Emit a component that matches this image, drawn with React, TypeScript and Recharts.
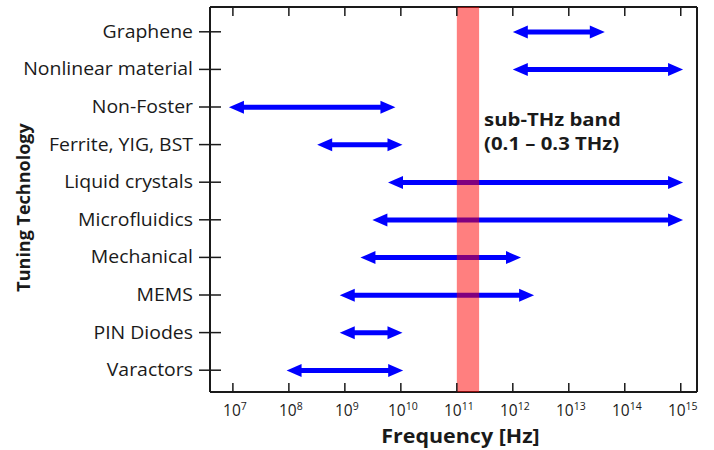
import { BarChart, Bar, XAxis, YAxis, ReferenceArea } from 'recharts';

// Tuning technologies, top to bottom
const technologies = [
  'Graphene',
  'Nonlinear material',
  'Non-Foster',
  'Ferrite, YIG, BST',
  'Liquid crystals',
  'Microfluidics',
  'Mechanical',
  'MEMS',
  'PIN Diodes',
  'Varactors',
];
// Tuning range in Hz (lower / upper end of each arrow)
const lowHz = [1.0e12, 1.0e12, 8.5e6, 3.2e8, 5.9e9, 3.1e9, 1.9e9, 8.1e8, 8.1e8, 9.1e7];
const highHz = [4.4e13, 1.1e15, 8.0e9, 1.07e10, 1.1e15, 1.1e15, 1.4e12, 2.4e12, 1.07e10, 1.1e10];

const decadeTicks = [1e7, 1e8, 1e9, 1e10, 1e11, 1e12, 1e13, 1e14, 1e15];
const freqDomain = [3.9e6, 1.95e15];
const subThzBand = [1e11, 2.5e11];

const FONT = '"Open Sans", "DejaVu Sans", sans-serif';
const INK = '#1a1a1a';
const ARROW = '#0000ff';

const rows = technologies.map((name, i) => ({ name, range: [lowHz[i], highHz[i]] }));

function DoubleArrow(props: any) {
  const { x, y, width, height } = props;
  const cy = y + height / 2;
  const head = 15;
  const half = 6.5;
  const x2 = x + width;
  return (
    <g>
      <line x1={x + head - 1} x2={x2 - head + 1} y1={cy} y2={cy} stroke={ARROW} strokeWidth={5} />
      <polygon points={`${x},${cy} ${x + head},${cy - half} ${x + head},${cy + half}`} fill={ARROW} />
      <polygon points={`${x2},${cy} ${x2 - head},${cy - half} ${x2 - head},${cy + half}`} fill={ARROW} />
    </g>
  );
}

function FreqTick(props: any) {
  const { x, y, payload } = props;
  const exp = Math.round(Math.log10(payload.value));
  return (
    <g>
      <line x1={x} x2={x} y1={y} y2={y - 9} stroke={INK} strokeWidth={1.5} />
      <text x={x + 2} y={y + 24} textAnchor="middle" fontFamily={FONT} fontSize={15.5} fill={INK}>
        10
        <tspan dy={-6} fontSize={10.5}>
          {exp}
        </tspan>
      </text>
    </g>
  );
}

function TopTick(props: any) {
  const { x, y } = props;
  return <line x1={x} x2={x} y1={y} y2={y + 9} stroke={INK} strokeWidth={1.5} />;
}

function TechTick(props: any) {
  const { x, y, payload } = props;
  return (
    <g>
      <line x1={x - 11} x2={x + 11} y1={y} y2={y} stroke={INK} strokeWidth={1.5} />
      <text
        transform={`translate(${x - 17},${y}) scale(1.08,1)`}
        dy={6}
        textAnchor="end"
        fontFamily={FONT}
        fontSize={18}
        fill={INK}
      >
        {payload.value}
      </text>
    </g>
  );
}

export default function App() {
  return (
    <div style={{ position: 'absolute', left: 0, top: 0, background: '#fff' }}>
      <BarChart
        width={714}
        height={450}
        data={rows}
        layout="vertical"
        margin={{ top: 6, right: 16, bottom: 0, left: 0 }}
      >
        <XAxis
          type="number"
          scale="log"
          dataKey="range"
          domain={freqDomain}
          allowDataOverflow
          ticks={decadeTicks}
          interval={0}
          tick={<FreqTick />}
          tickLine={false}
          tickSize={0}
          tickMargin={0}
          height={58}
          axisLine={{ stroke: INK, strokeWidth: 2 }}
          label={{
            content: (p: any) => (
              <text
                transform={`translate(${p.viewBox.x + p.viewBox.width / 2 + 7},${p.viewBox.y + 51}) scale(1.1,1)`}
                textAnchor="middle"
                fontFamily={FONT}
                fontWeight="bold"
                fontSize={19.5}
                fill={INK}
              >
                Frequency [Hz]
              </text>
            ),
          }}
        />
        <XAxis
          xAxisId="top"
          orientation="top"
          type="number"
          scale="log"
          domain={freqDomain}
          allowDataOverflow
          ticks={decadeTicks}
          interval={0}
          tick={<TopTick />}
          tickLine={false}
          tickSize={0}
          tickMargin={0}
          height={1}
          axisLine={{ stroke: INK, strokeWidth: 2 }}
        />
        <YAxis
          type="category"
          dataKey="name"
          width={210}
          padding={{ top: 6, bottom: 3 }}
          tick={<TechTick />}
          tickLine={false}
          tickSize={0}
          tickMargin={0}
          interval={0}
          axisLine={{ stroke: INK, strokeWidth: 2 }}
          label={{
            content: (p: any) => {
              const cx = 24;
              const cy = p.viewBox.y + p.viewBox.height / 2 + 8;
              return (
                <text
                  x={cx}
                  y={cy}
                  dy={6}
                  transform={`rotate(-90 ${cx} ${cy})`}
                  textAnchor="middle"
                  fontFamily={FONT}
                  fontWeight="bold"
                  fontSize={18}
                  fill={INK}
                >
                  Tuning Technology
                </text>
              );
            },
          }}
        />
        {/* right frame edge; unpadded so the band spans the full plot height */}
        <YAxis
          yAxisId="right"
          orientation="right"
          type="category"
          dataKey="name"
          width={1}
          tick={false}
          tickLine={false}
          axisLine={{ stroke: INK, strokeWidth: 2 }}
        />
        <Bar dataKey="range" barSize={14} shape={<DoubleArrow />} isAnimationActive={false} />
        <ReferenceArea
          yAxisId="right"
          x1={subThzBand[0]}
          x2={subThzBand[1]}
          zIndex={600}
          fill="#ff0000"
          fillOpacity={0.5}
          stroke="none"
          label={{
            content: (p: any) => {
              const lx = p.viewBox.x + p.viewBox.width + 5;
              return (
                <g fontFamily={FONT} fontWeight="bold" fontSize={18} fill={INK}>
                  <text transform={`translate(${lx},${p.viewBox.y + 119}) scale(1.13,1)`}>sub-THz band</text>
                  <text transform={`translate(${lx},${p.viewBox.y + 143}) scale(1.13,1)`}>(0.1 – 0.3 THz)</text>
                </g>
              );
            },
          }}
        />
      </BarChart>
    </div>
  );
}
